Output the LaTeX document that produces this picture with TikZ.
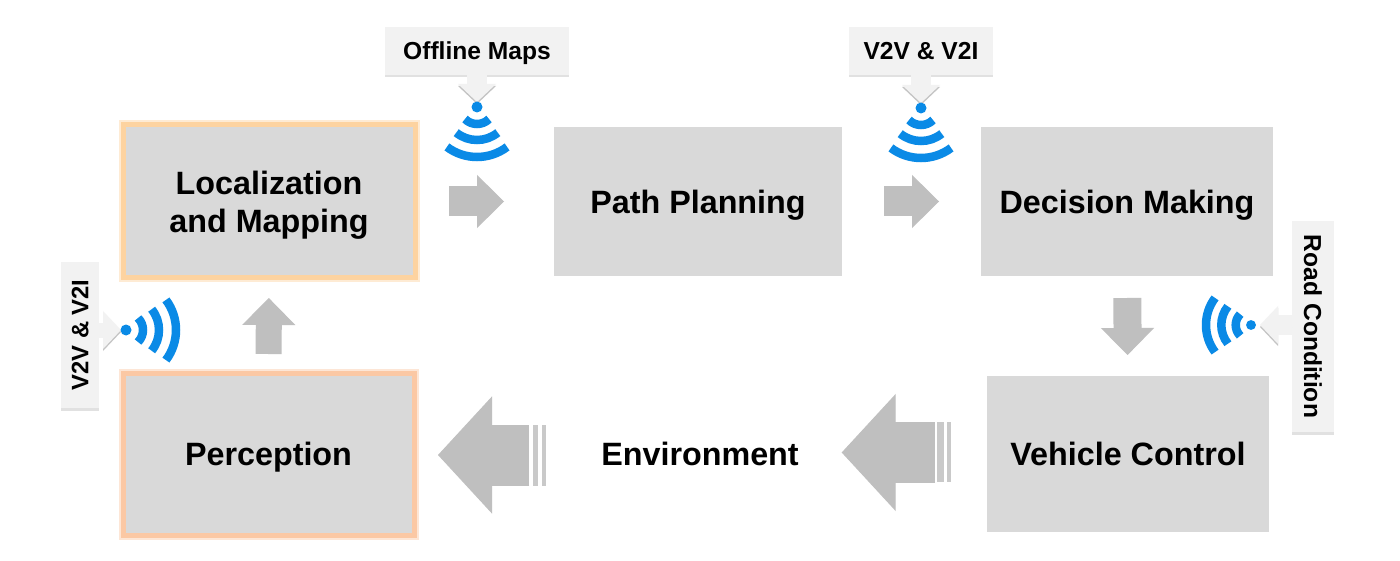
\documentclass[tikz,border=0pt]{standalone}
\usepackage{fontspec}
\setmainfont{Liberation Sans}
\usetikzlibrary{arrows.meta,shadows}

\definecolor{boxgray}{HTML}{D9D9D9}
\definecolor{flowgray}{HTML}{BFBFBF}
\definecolor{tagfill}{HTML}{F2F2F2}
\definecolor{tagedge}{HTML}{C4C4C4}
\definecolor{signalblue}{HTML}{0A8AE6}
\definecolor{glowyellow}{HTML}{FDD3A0}
\definecolor{gloworange}{HTML}{FBC8A4}

\tikzset{
    stage/.style={fill=boxgray,outer sep=0pt,inner sep=0pt,align=center,text depth=0pt,
        font=\fontsize{32.3}{38}\selectfont\bfseries},
    glow/.style={draw=#1,line width=5pt,
        preaction={draw=#1!45,line width=9pt,rounded corners=3pt}},
    tag/.style={fill=tagfill,outer sep=0pt,inner sep=0pt,text depth=0pt,
        font=\fontsize{24.6}{28}\selectfont\bfseries,
        drop shadow={shadow xshift=0pt,shadow yshift=-2.5pt,fill=tagedge}},
    tagarrow/.style={draw=tagfill,line width=#1,
        -{Triangle[length=18pt,width=38pt,line width=0pt]},
        preaction={draw=tagedge,transform canvas={yshift=-2pt}}},
    flowarrow/.style={draw=flowgray,line width=28pt,
        -{Triangle[length=27pt,width=53pt,line width=1pt]}},
    bigarrow/.style={draw=flowgray,line width=61pt,
        -{Triangle[length=54pt,width=117pt,line width=1pt]}},
    stripe/.style={fill=flowgray!85},
    wave/.style={draw=signalblue,line width=8.5pt}
}

\newcommand{\wifi}[3][1]{
    \begin{scope}[shift={(#2)},rotate=#3,scale=#1]
        \fill [signalblue] (0,0) circle (5.5pt);
        \draw [wave] (-135:17pt) arc [start angle=-135,end angle=-45,radius=17pt];
        \draw [wave] (-129:33pt) arc [start angle=-129,end angle=-51,radius=33pt];
        \draw [wave] (-127:50pt) arc [start angle=-127,end angle=-53,radius=50pt];
    \end{scope}
}

\begin{document}
\begin{tikzpicture}[x=1pt,y=-1pt,node distance=100pt]
    \useasboundingbox [fill=white] (0,0) rectangle (1400,561);

    \node (loc) [stage,glow=glowyellow,minimum width=292pt,minimum height=153pt] at (269,201.5) {Localization\\and Mapping};
    \node (path) [stage,minimum width=288pt,minimum height=149pt,right of=loc,xshift=329pt] {Path Planning};
    \node (dec) [stage,minimum width=292pt,minimum height=149pt,right of=path,xshift=329pt] {Decision Making};
    \node (veh) [stage,minimum width=282pt,minimum height=156pt,below of=dec,xshift=1pt,yshift=-152.5pt] {Vehicle Control};
    \node (env) [font=\fontsize{32.3}{38}\selectfont\bfseries,text depth=0pt,outer sep=0pt,inner sep=0pt,left of=veh,xshift=-328pt] {Environment};
    \node (per) [stage,glow=gloworange,minimum width=291pt,minimum height=162pt,left of=env,xshift=-331.5pt] {Perception};

    \coordinate (wifiA) at (477,107);
    \coordinate (wifiB) at (921,108);
    \coordinate (wifiC) at (126,330);
    \coordinate (wifiD) at (1251,325);

    \node (maps) [tag,minimum width=184pt,minimum height=48pt] at (477,51) {Offline Maps};
    \node (vtop) [tag,minimum width=144pt,minimum height=48pt] at (921,51) {V2V \& V2I};
    \node (vside) [tag,font=\fontsize{23.8}{28}\selectfont\bfseries,rotate=90,minimum width=146pt,minimum height=38pt] at (80,335) {V2V \& V2I};
    \node (road) [tag,rotate=-90,minimum width=211pt,minimum height=42pt] at (1313,326.5) {Road Condition};

    \draw [tagarrow=20pt,shorten >=5pt] (maps) -- (wifiA);
    \draw [tagarrow=20pt,shorten >=5pt] (vtop) -- (wifiB);
    \draw [tagarrow=15pt,shorten >=5pt] (vside.south |- wifiC) -- (wifiC);
    \draw [tagarrow=19pt,shorten >=9pt] (road.south |- wifiD) -- (wifiD);

    \wifi{wifiA}{0}
    \wifi{wifiB}{0}
    \wifi{wifiC}{90}
    \wifi[.9]{wifiD}{-90}

    \draw [flowarrow,line width=30pt,shorten <=34pt,shorten >=50pt] (loc) -- (path);
    \draw [flowarrow,line width=30pt,shorten <=42pt,shorten >=42pt] (path) -- (dec);
    \draw [flowarrow,shorten <=22pt,shorten >=21pt] (dec) -- (veh);
    \draw [flowarrow,line width=26pt,shorten <=19pt,shorten >=20pt] (per) -- (loc);
    \draw [bigarrow,transform canvas={yshift=1.5pt},shorten <=52pt,shorten >=43pt] (veh) -- (env);
    \draw [bigarrow,transform canvas={yshift=-1pt},shorten <=72pt,shorten >=24pt] (env) -- (per);

    \fill [stripe] (533,425) rectangle (538,486);
    \fill [stripe] (542,425) rectangle (546,486);
    \fill [stripe] (937,422) rectangle (944,482);
    \fill [stripe] (947,422) rectangle (951,482);
\end{tikzpicture}
\end{document}
